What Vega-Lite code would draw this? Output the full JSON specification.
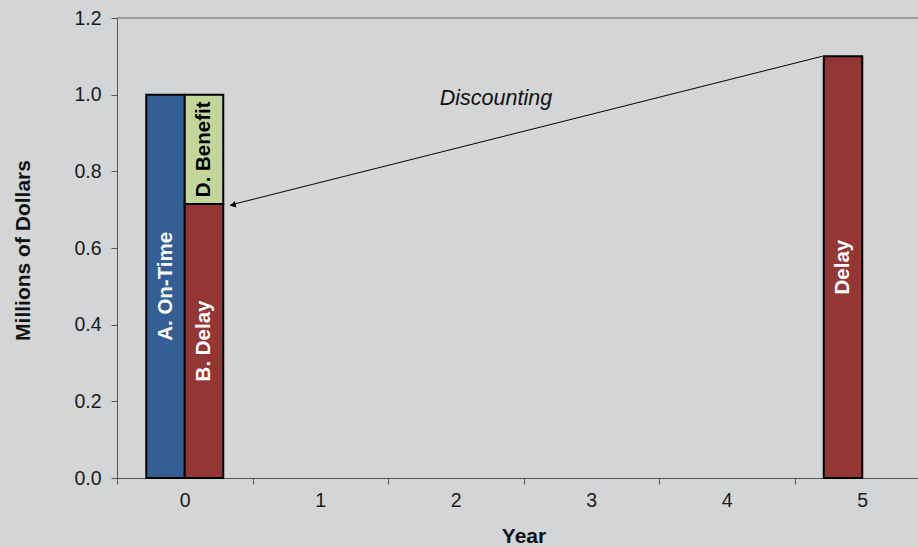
{
  "$schema": "https://vega.github.io/schema/vega-lite/v6.json",
  "width": 801,
  "height": 460,
  "autosize": {"type": "none"},
  "padding": {"left": 117, "top": 18, "right": 0, "bottom": 69},
  "background": "#d3d5d7",
  "config": {
    "view": {"stroke": null},
    "font": "Liberation Sans",
    "axis": {
      "domainColor": "#555555",
      "tickColor": "#555555",
      "labelColor": "#1a1a1a",
      "labelFontSize": 19.5,
      "titleFontSize": 21,
      "titleFontWeight": "bold",
      "titleColor": "#111111",
      "grid": false
    }
  },
  "datasets": {
    "bars": [
      {"year": "0", "slot": "1", "series": "A. On-Time", "value": 1.0},
      {"year": "0", "slot": "2", "series": "B. Delay", "value": 0.715},
      {"year": "0", "slot": "2", "series": "D. Benefit", "value": 0.285},
      {"year": "5", "slot": "1", "series": "Delay", "value": 1.1}
    ],
    "arrow": [
      {"i": 1, "ax": 4.703, "ay": 1.1},
      {"i": 2, "ax": 0.335, "ay": 0.712}
    ],
    "head": [
      {"ax": 0.355, "ay": 0.712}
    ],
    "notes": [
      {"nx": 2.297, "ny": 0.99, "label": "Discounting"}
    ],
    "frame": [
      {"v": 1.2}
    ]
  },
  "resolve": {"scale": {"x": "independent"}, "axis": {"x": "independent"}},
  "layer": [
    {
      "data": {"name": "bars"},
      "transform": [
        {"stack": "value", "groupby": ["year", "slot"], "sort": [{"field": "series", "order": "ascending"}], "as": ["y0", "y1"]},
        {"calculate": "(datum.y0 + datum.y1) / 2", "as": "ymid"}
      ],
      "layer": [
        {
          "mark": {"type": "bar", "stroke": "black", "strokeWidth": 2},
          "encoding": {
            "x": {
              "field": "year", "type": "ordinal",
              "scale": {"domain": ["0", "1", "2", "3", "4", "5"], "range": [0, 813], "paddingInner": 0, "paddingOuter": 0},
              "axis": {"title": "Year", "tickBand": "extent", "labelAngle": 0, "tickSize": 6, "labelPadding": 7, "titleY": 58, "titleBaseline": "middle"}
            },
            "xOffset": {"field": "slot", "type": "nominal", "scale": {"domain": ["1", "2"], "paddingOuter": 0.76, "paddingInner": 0}},
            "y": {
              "field": "y0", "type": "quantitative",
              "scale": {"domain": [0, 1.2], "nice": false},
              "axis": {"title": "Millions of Dollars", "values": [0, 0.2, 0.4, 0.6, 0.8, 1.0, 1.2], "format": ".1f", "tickSize": 6, "labelPadding": 10, "titleX": -94, "titleY": 232, "titleBaseline": "middle", "titleAlign": "center", "titleAngle": 270}
            },
            "y2": {"field": "y1"},
            "color": {
              "field": "series", "type": "nominal", "legend": null,
              "scale": {"domain": ["A. On-Time", "B. Delay", "D. Benefit", "Delay"], "range": ["#335f94", "#943634", "#c4d79b", "#943634"]}
            }
          }
        },
        {
          "mark": {"type": "text", "angle": 270, "fontSize": 20.5, "fontWeight": "bold", "align": "center", "baseline": "middle"},
          "encoding": {
            "x": {"field": "year", "type": "ordinal", "scale": {"domain": ["0", "1", "2", "3", "4", "5"], "range": [0, 813], "paddingInner": 0, "paddingOuter": 0}},
            "xOffset": {"field": "slot", "type": "nominal", "scale": {"domain": ["1", "2"], "paddingOuter": 0.76, "paddingInner": 0}},
            "y": {"field": "ymid", "type": "quantitative"},
            "text": {"field": "series"},
            "color": {"condition": {"test": "datum.series === 'D. Benefit'", "value": "black"}, "value": "white"}
          }
        }
      ]
    },
    {
      "data": {"name": "frame"},
      "mark": {"type": "rule", "color": "#666666", "strokeWidth": 1},
      "encoding": {
        "y": {"field": "v", "type": "quantitative"}
      }
    },
    {
      "data": {"name": "arrow"},
      "mark": {"type": "line", "color": "black", "strokeWidth": 1},
      "encoding": {
        "x": {"field": "ax", "type": "quantitative", "scale": {"domain": [-0.5, 5.5], "range": [0, 813], "nice": false, "zero": false}, "axis": null},
        "y": {"field": "ay", "type": "quantitative"},
        "order": {"field": "i"}
      }
    },
    {
      "data": {"name": "head"},
      "mark": {"type": "point", "shape": "triangle-left", "filled": true, "color": "black", "size": 45, "angle": 346, "opacity": 1},
      "encoding": {
        "x": {"field": "ax", "type": "quantitative", "scale": {"domain": [-0.5, 5.5], "range": [0, 813], "nice": false, "zero": false}, "axis": null},
        "y": {"field": "ay", "type": "quantitative"}
      }
    },
    {
      "data": {"name": "notes"},
      "mark": {"type": "text", "fontSize": 21.5, "fontStyle": "italic", "color": "#111111", "align": "center", "baseline": "middle"},
      "encoding": {
        "x": {"field": "nx", "type": "quantitative", "scale": {"domain": [-0.5, 5.5], "range": [0, 813], "nice": false, "zero": false}, "axis": null},
        "y": {"field": "ny", "type": "quantitative"},
        "text": {"field": "label"}
      }
    }
  ]
}
